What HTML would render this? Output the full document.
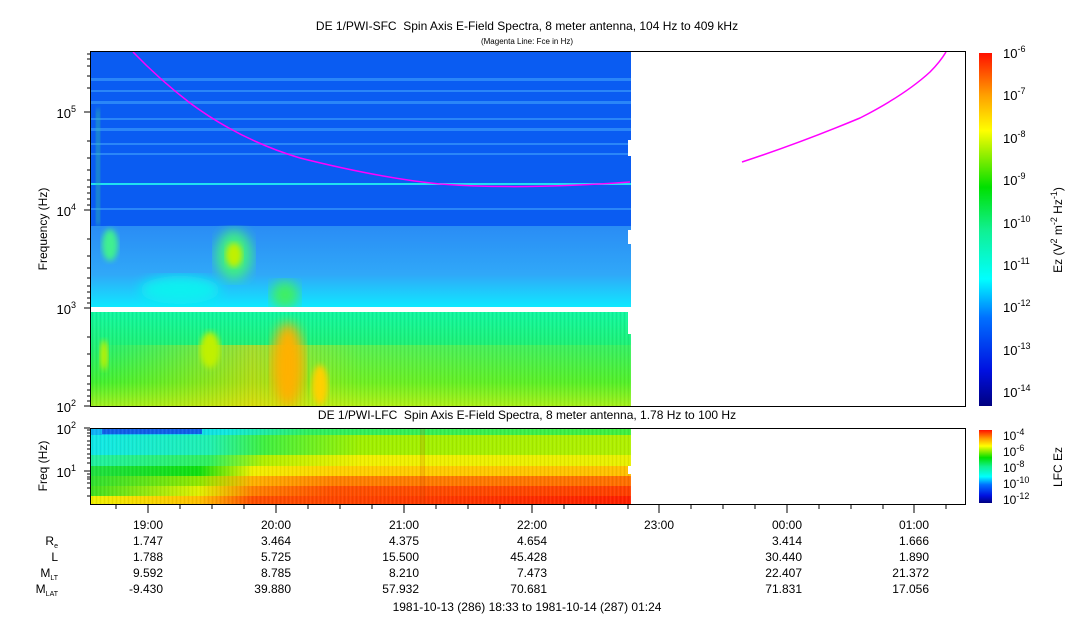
<!DOCTYPE html>
<html><head><meta charset="utf-8"><style>
body{margin:0;background:#fff;}
svg text{font-family:"Liberation Sans",sans-serif;fill:#000;white-space:pre;}
</style></head><body>
<svg width="1083" height="620" viewBox="0 0 1083 620" xmlns="http://www.w3.org/2000/svg">
<defs>
<linearGradient id="cb" x1="0" y1="1" x2="0" y2="0">
<stop offset="0" stop-color="#000080"/><stop offset="0.1" stop-color="#0010e0"/>
<stop offset="0.25" stop-color="#0070ff"/><stop offset="0.36" stop-color="#00ffff"/>
<stop offset="0.5" stop-color="#10f090"/><stop offset="0.62" stop-color="#00e000"/>
<stop offset="0.72" stop-color="#a0f000"/><stop offset="0.78" stop-color="#ffff00"/>
<stop offset="0.88" stop-color="#ffa000"/><stop offset="1" stop-color="#ff1000"/>
</linearGradient>
<linearGradient id="mid" x1="0" y1="0" x2="0" y2="1">
<stop offset="0" stop-color="#2a8cf5"/><stop offset="0.6" stop-color="#30a8f8"/><stop offset="1" stop-color="#10e8ff"/>
</linearGradient>
<linearGradient id="low" x1="0" y1="0" x2="0" y2="1">
<stop offset="0" stop-color="#10f8a0"/><stop offset="0.4" stop-color="#20f070"/><stop offset="0.75" stop-color="#40f030"/><stop offset="1" stop-color="#a0f020"/>
</linearGradient>
<linearGradient id="lowx" x1="0" y1="0" x2="1" y2="0">
<stop offset="0" stop-color="#c0f000" stop-opacity="0"/><stop offset="0.3" stop-color="#ffd000" stop-opacity="0.6"/><stop offset="0.5" stop-color="#e0f000" stop-opacity="0.3"/><stop offset="1" stop-color="#c0f000" stop-opacity="0.15"/>
</linearGradient>
<linearGradient id="r0" x1="91" x2="631" gradientUnits="userSpaceOnUse"><stop offset="0" stop-color="#10b0f8"/><stop offset="0.25" stop-color="#10e8e0"/><stop offset="0.4" stop-color="#30f060"/><stop offset="1" stop-color="#40f040"/></linearGradient>
<linearGradient id="r1" x1="91" x2="631" gradientUnits="userSpaceOnUse"><stop offset="0" stop-color="#10e8e8"/><stop offset="0.22" stop-color="#20f0b0"/><stop offset="0.32" stop-color="#40f040"/><stop offset="0.5" stop-color="#a0f000"/><stop offset="1" stop-color="#b0f000"/></linearGradient>
<linearGradient id="r2" x1="91" x2="631" gradientUnits="userSpaceOnUse"><stop offset="0" stop-color="#20f0a0"/><stop offset="0.22" stop-color="#30f060"/><stop offset="0.32" stop-color="#b0f000"/><stop offset="0.5" stop-color="#f0f000"/><stop offset="1" stop-color="#e8f000"/></linearGradient>
<linearGradient id="r3" x1="91" x2="631" gradientUnits="userSpaceOnUse"><stop offset="0" stop-color="#20e040"/><stop offset="0.2" stop-color="#10e010"/><stop offset="0.3" stop-color="#f0f000"/><stop offset="0.45" stop-color="#ffd000"/><stop offset="1" stop-color="#ffc000"/></linearGradient>
<linearGradient id="r4" x1="91" x2="631" gradientUnits="userSpaceOnUse"><stop offset="0" stop-color="#30e030"/><stop offset="0.2" stop-color="#90e800"/><stop offset="0.3" stop-color="#ffb000"/><stop offset="0.45" stop-color="#ff8000"/><stop offset="1" stop-color="#ff7000"/></linearGradient>
<linearGradient id="r5" x1="91" x2="631" gradientUnits="userSpaceOnUse"><stop offset="0" stop-color="#40e020"/><stop offset="0.2" stop-color="#e0f000"/><stop offset="0.3" stop-color="#ff8000"/><stop offset="0.45" stop-color="#ff5000"/><stop offset="1" stop-color="#ff4000"/></linearGradient>
<linearGradient id="r6" x1="91" x2="631" gradientUnits="userSpaceOnUse"><stop offset="0" stop-color="#f0f000"/><stop offset="0.2" stop-color="#ffc000"/><stop offset="0.3" stop-color="#ff5000"/><stop offset="1" stop-color="#ff2000"/></linearGradient>
<pattern id="vs" width="4" height="10" patternUnits="userSpaceOnUse"><rect width="1" height="10" fill="#000" opacity="0.06"/><rect x="2" width="1" height="10" fill="#fff" opacity="0.06"/></pattern>
<filter id="bl"><feGaussianBlur stdDeviation="6"/></filter>
<filter id="bl2"><feGaussianBlur stdDeviation="3"/></filter>
<clipPath id="cp"><rect x="91" y="52" width="540" height="354"/></clipPath>
</defs>

<text x="527" y="30" font-size="12" text-anchor="middle">DE 1/PWI-SFC  Spin Axis E-Field Spectra, 8 meter antenna, 104 Hz to 409 kHz</text>
<text x="527" y="44" font-size="8" text-anchor="middle">(Magenta Line: Fce in Hz)</text>
<text x="527" y="419" font-size="12" text-anchor="middle">DE 1/PWI-LFC  Spin Axis E-Field Spectra, 8 meter antenna, 1.78 Hz to 100 Hz</text>

<g clip-path="url(#cp)">
<rect x="91" y="52" width="540" height="174" fill="#0a5cf2"/>
<g fill="#2a86f8">
<rect x="91" y="78" width="540" height="3"/><rect x="91" y="90" width="540" height="2"/>
<rect x="91" y="101" width="540" height="3"/><rect x="91" y="118" width="540" height="2"/>
<rect x="91" y="128" width="540" height="3"/><rect x="91" y="143" width="540" height="2"/>
<rect x="91" y="153" width="540" height="2"/><rect x="91" y="208" width="540" height="2"/>
</g>
<rect x="91" y="183" width="540" height="2" fill="#20e0f0"/>
<rect x="91" y="226" width="540" height="81" fill="url(#mid)"/>
<ellipse cx="234" cy="255" rx="18" ry="25" fill="#40f080" filter="url(#bl)"/>
<ellipse cx="234" cy="255" rx="8" ry="12" fill="#c0f000" filter="url(#bl2)"/>
<ellipse cx="285" cy="295" rx="14" ry="14" fill="#40f060" filter="url(#bl)"/>
<ellipse cx="110" cy="245" rx="8" ry="16" fill="#40f090" filter="url(#bl2)"/>
<ellipse cx="180" cy="290" rx="40" ry="14" fill="#10f0f0" filter="url(#bl)"/>
<rect x="91" y="307" width="540" height="5" fill="#fff"/>
<rect x="91" y="312" width="540" height="94" fill="url(#low)"/>
<rect x="91" y="345" width="540" height="61" fill="url(#lowx)"/>
<rect x="91" y="312" width="540" height="94" fill="url(#vs)"/>
<ellipse cx="288" cy="365" rx="16" ry="42" fill="#ffb000" filter="url(#bl)"/>
<ellipse cx="210" cy="350" rx="10" ry="18" fill="#c0f000" filter="url(#bl2)"/>
<ellipse cx="320" cy="385" rx="8" ry="20" fill="#ffd000" filter="url(#bl2)"/>
<ellipse cx="104" cy="355" rx="4" ry="15" fill="#c0f000" filter="url(#bl2)"/>
<path d="M96 110 L100 108 L100 225 L96 225 Z" fill="#30c8a0" opacity="0.7" filter="url(#bl2)"/>
</g>
<rect x="628" y="140" width="3" height="16" fill="#fff"/>
<rect x="628" y="230" width="3" height="14" fill="#fff"/>
<rect x="628" y="312" width="3" height="22" fill="#fff"/>
<path d="M133 52 Q160 80 190 103 Q240 140 300 158 Q380 178 440 184 Q520 190 630 182" fill="none" stroke="#ff00ff" stroke-width="1.5"/>
<path d="M742 162 Q800 143 860 118 Q905 95 930 72 Q940 62 946 52" fill="none" stroke="#ff00ff" stroke-width="1.5"/>
<rect x="90.5" y="51.5" width="875" height="355" fill="none" stroke="#000"/>

<g stroke="#000">
<line x1="84" y1="112" x2="90" y2="112"/><line x1="84" y1="210" x2="90" y2="210"/>
<line x1="84" y1="308" x2="90" y2="308"/><line x1="84" y1="406" x2="90" y2="406"/>
<path d="M87 54H90M87 59H90M87 66H90M87 76H90M87 88H90M87 141H90M87 158H90M87 170H90M87 180H90M87 187H90M87 193H90M87 199H90M87 205H90M87 239H90M87 256H90M87 268H90M87 278H90M87 286H90M87 292H90M87 298H90M87 303H90M87 337H90M87 354H90M87 366H90M87 376H90M87 384H90M87 390H90M87 396H90M87 401H90"/>
</g>
<g font-size="13" text-anchor="end">
<text x="76" y="118">10<tspan font-size="9" dy="-6">5</tspan></text>
<text x="76" y="216">10<tspan font-size="9" dy="-6">4</tspan></text>
<text x="76" y="314">10<tspan font-size="9" dy="-6">3</tspan></text>
<text x="76" y="412">10<tspan font-size="9" dy="-6">2</tspan></text>
</g>
<text transform="translate(47,229) rotate(-90)" font-size="12" text-anchor="middle">Frequency (Hz)</text>

<rect x="979" y="53" width="13" height="353" fill="url(#cb)"/>
<g font-size="13">
<text x="1003" y="58">10<tspan font-size="9" dy="-6">-6</tspan></text>
<text x="1003" y="100">10<tspan font-size="9" dy="-6">-7</tspan></text>
<text x="1003" y="143">10<tspan font-size="9" dy="-6">-8</tspan></text>
<text x="1003" y="185">10<tspan font-size="9" dy="-6">-9</tspan></text>
<text x="1003" y="228">10<tspan font-size="9" dy="-6">-10</tspan></text>
<text x="1003" y="270">10<tspan font-size="9" dy="-6">-11</tspan></text>
<text x="1003" y="312">10<tspan font-size="9" dy="-6">-12</tspan></text>
<text x="1003" y="355">10<tspan font-size="9" dy="-6">-13</tspan></text>
<text x="1003" y="397">10<tspan font-size="9" dy="-6">-14</tspan></text>
</g>
<text transform="translate(1062,230) rotate(-90)" font-size="12" text-anchor="middle">Ez (V<tspan font-size="9" dy="-5">2</tspan><tspan dy="5"> m</tspan><tspan font-size="9" dy="-5">-2</tspan><tspan dy="5"> Hz</tspan><tspan font-size="9" dy="-5">-1</tspan><tspan dy="5">)</tspan></text>

<g>
<rect x="91" y="429" width="540" height="6" fill="url(#r0)"/>
<rect x="102" y="429" width="100" height="5" fill="#1060e8"/>
<rect x="91" y="435" width="540" height="20" fill="url(#r1)"/>
<rect x="91" y="455" width="540" height="11" fill="url(#r2)"/>
<rect x="91" y="466" width="540" height="10" fill="url(#r3)"/>
<rect x="91" y="476" width="540" height="10" fill="url(#r4)"/>
<rect x="91" y="486" width="540" height="10" fill="url(#r5)"/>
<rect x="91" y="496" width="540" height="8" fill="url(#r6)"/>
<rect x="91" y="429" width="540" height="75" fill="url(#vs)"/>
<rect x="420" y="429" width="5" height="75" fill="#c04000" opacity="0.15"/>
<rect x="628" y="466" width="3" height="8" fill="#fff"/>
</g>
<rect x="90.5" y="428.5" width="875" height="76" fill="none" stroke="#000"/>
<g stroke="#000">
<line x1="84" y1="428" x2="90" y2="428"/><line x1="84" y1="471" x2="90" y2="471"/>
<path d="M87 430H90M87 433H90M87 436H90M87 441H90M87 445H90M87 449H90M87 454H90M87 458H90M87 463H90M87 474H90M87 477H90M87 479H90M87 483H90M87 488H90M87 496H90"/>
</g>
<g font-size="13" text-anchor="end">
<text x="76" y="434">10<tspan font-size="9" dy="-6">2</tspan></text>
<text x="76" y="477">10<tspan font-size="9" dy="-6">1</tspan></text>
</g>
<text transform="translate(47,466) rotate(-90)" font-size="12" text-anchor="middle">Freq (Hz)</text>

<rect x="979" y="430" width="13" height="73" fill="url(#cb)"/>
<g font-size="12">
<text x="1003" y="440">10<tspan font-size="9" dy="-5">-4</tspan></text>
<text x="1003" y="456">10<tspan font-size="9" dy="-5">-6</tspan></text>
<text x="1003" y="472">10<tspan font-size="9" dy="-5">-8</tspan></text>
<text x="1003" y="488">10<tspan font-size="9" dy="-5">-10</tspan></text>
<text x="1003" y="504">10<tspan font-size="9" dy="-5">-12</tspan></text>
</g>
<text transform="translate(1062,467) rotate(-90)" font-size="12" text-anchor="middle">LFC Ez</text>

<g stroke="#000">
<line x1="116" y1="505" x2="116" y2="509"/><line x1="148" y1="505" x2="148" y2="513"/>
<line x1="180" y1="505" x2="180" y2="509"/><line x1="212" y1="505" x2="212" y2="509"/><line x1="244" y1="505" x2="244" y2="509"/>
<line x1="276" y1="505" x2="276" y2="513"/>
<line x1="308" y1="505" x2="308" y2="509"/><line x1="340" y1="505" x2="340" y2="509"/><line x1="372" y1="505" x2="372" y2="509"/>
<line x1="404" y1="505" x2="404" y2="513"/>
<line x1="436" y1="505" x2="436" y2="509"/><line x1="468" y1="505" x2="468" y2="509"/><line x1="500" y1="505" x2="500" y2="509"/>
<line x1="532" y1="505" x2="532" y2="513"/>
<line x1="564" y1="505" x2="564" y2="509"/><line x1="596" y1="505" x2="596" y2="509"/><line x1="628" y1="505" x2="628" y2="509"/>
<line x1="659" y1="505" x2="659" y2="513"/>
<line x1="691" y1="505" x2="691" y2="509"/><line x1="723" y1="505" x2="723" y2="509"/><line x1="755" y1="505" x2="755" y2="509"/>
<line x1="787" y1="505" x2="787" y2="513"/>
<line x1="819" y1="505" x2="819" y2="509"/><line x1="851" y1="505" x2="851" y2="509"/><line x1="883" y1="505" x2="883" y2="509"/>
<line x1="914" y1="505" x2="914" y2="513"/>
<line x1="946" y1="505" x2="946" y2="509"/>
</g>
<g font-size="12" text-anchor="middle">
<text x="148" y="529">19:00</text><text x="276" y="529">20:00</text><text x="404" y="529">21:00</text>
<text x="532" y="529">22:00</text><text x="659" y="529">23:00</text><text x="787" y="529">00:00</text><text x="914" y="529">01:00</text>
</g>
<g font-size="12" text-anchor="end">
<text x="58" y="545">R<tspan font-size="7" dy="3">e</tspan></text>
<text x="58" y="561">L</text>
<text x="58" y="577">M<tspan font-size="7" dy="3">LT</tspan></text>
<text x="58" y="593">M<tspan font-size="7" dy="3">LAT</tspan></text>
<text x="163" y="545">1.747</text><text x="163" y="561">1.788</text><text x="163" y="577">9.592</text><text x="163" y="593">-9.430</text>
<text x="291" y="545">3.464</text><text x="291" y="561">5.725</text><text x="291" y="577">8.785</text><text x="291" y="593">39.880</text>
<text x="419" y="545">4.375</text><text x="419" y="561">15.500</text><text x="419" y="577">8.210</text><text x="419" y="593">57.932</text>
<text x="547" y="545">4.654</text><text x="547" y="561">45.428</text><text x="547" y="577">7.473</text><text x="547" y="593">70.681</text>
<text x="802" y="545">3.414</text><text x="802" y="561">30.440</text><text x="802" y="577">22.407</text><text x="802" y="593">71.831</text>
<text x="929" y="545">1.666</text><text x="929" y="561">1.890</text><text x="929" y="577">21.372</text><text x="929" y="593">17.056</text>
</g>
<text x="527" y="611" font-size="12" text-anchor="middle">1981-10-13 (286) 18:33 to 1981-10-14 (287) 01:24</text>
</svg>
</body></html>
